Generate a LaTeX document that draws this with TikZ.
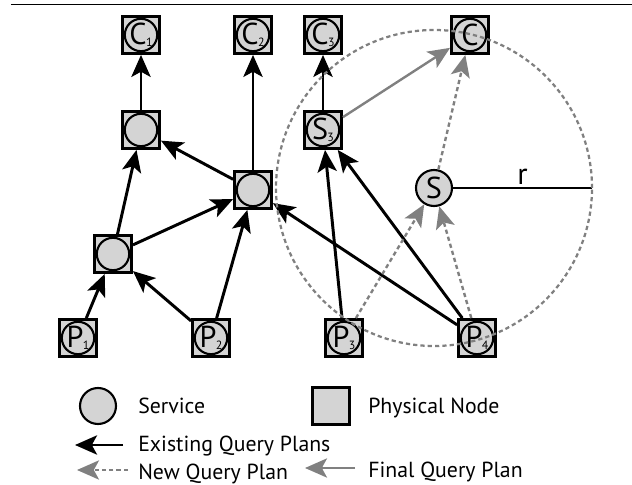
\documentclass[tikz,border=0pt]{standalone}
\usepackage{fontspec}
\setmainfont{PT Sans}
\usetikzlibrary{arrows.meta}

\definecolor{nodegray}{gray}{0.83}
\definecolor{plangray}{gray}{0.5}

\newcommand{\lbl}[2]{#1\kern-0.4pt\raisebox{-0.1ex}{\fontsize{8.5}{8.5}\selectfont #2}}

\begin{document}
\begin{tikzpicture}
    \tikzstyle{phys}=[draw, line width=2pt, fill=nodegray, minimum size=0.925cm, inner sep=0pt,
        font=\fontsize{21.5}{24}\selectfont,
        path picture={\draw[line width=1.5pt, fill=nodegray] (path picture bounding box.center) circle (0.405cm);}]
    \tikzstyle{svc}=[draw, circle, line width=1.5pt, fill=nodegray, minimum size=0.9cm, inner sep=0pt,
        font=\fontsize{21.5}{24}\selectfont]
    \tikzstyle{legend}=[anchor=base west, inner sep=0pt, font=\fontsize{15.5}{17}\selectfont]
    \tikzstyle{existing}=[-{Stealth[length=5.5mm, width=4.8mm, inset=1.3mm]}, line width=2.1pt]
    \tikzstyle{finalplan}=[-{Stealth[length=5.5mm, width=4.8mm, inset=1.3mm]}, line width=1.7pt, plangray]
    \tikzstyle{newplan}=[finalplan, dash pattern=on 3pt off 2.2pt]
    \useasboundingbox (0, 0) rectangle (15.8, 12.1);
    \draw[line width=1pt] (0.275, 11.99) -- (15.8, 11.99);

    \node[phys] (c1)   at (3.525, 11.225) {\lbl{C}{1}};
    \node[phys] (c2)   at (6.325, 11.225) {\lbl{C}{2}};
    \node[phys] (c3)   at (8.075, 11.225) {\lbl{C}{3}};
    \node[phys] (cnew) at (11.75, 11.225) {C};
    \node[phys] (sa)   at (3.525, 8.85)   {};
    \node[phys] (s3)   at (8.075, 8.85)   {\lbl{S}{3}};
    \node[phys] (sb)   at (6.325, 7.35)   {};
    \node[phys] (sc)   at (2.825, 5.75)   {};
    \node[svc]  (snew) at (10.85, 7.4)    {S};
    \node[phys] (p1)   at (1.95, 3.65)    {\lbl{P}{1}};
    \node[phys] (p2)   at (5.275, 3.65)   {\lbl{P}{2}};
    \node[phys] (p3)   at (8.6, 3.65)     {\lbl{P}{3}};
    \node[phys] (p4)   at (11.925, 3.65)  {\lbl{P}{4}};
    \coordinate (rim) at (14.8, 7.4);

    \path[existing] (sa) edge (c1)
                    (sb) edge (c2)
                    (s3) edge (c3)
                    (sb) edge (sa)
                    (sc) edge (sa)
                    (sc) edge (sb)
                    (p1) edge (sc)
                    (p2) edge (sc)
                    (p2) edge (sb)
                    (p3) edge (s3)
                    (p4) edge (s3)
                    (p4) edge (sb);
    \path[finalplan] (s3) edge (cnew);
    \path[newplan] (snew) edge (cnew)
                   (p3) edge (snew)
                   (p4) edge (snew);
    \draw[line width=0.8pt] (snew) -- node[above, inner sep=2pt, font=\fontsize{21.5}{24}\selectfont] {r} (rim);
    \draw[plangray, line width=1.6pt, dash pattern=on 3pt off 2.2pt] (snew.center) circle (3.95cm);

    % legend
    \node[svc] (lsvc) at (2.45, 1.95) {};
    \node[legend] (tsvc) at (3.45, 1.775) {Service};
    \node[draw, line width=2pt, fill=nodegray, minimum size=0.925cm] (lphys) at (8.275, 1.95) {};
    \node[legend] (tphys) at (9.2, 1.775) {Physical Node};
    \coordinate (ex1) at (3.075, 0.975);
    \coordinate (ex2) at (1.875, 0.975);
    \draw[existing] (ex1) -- (ex2);
    \node[legend] (texist) at (3.45, 0.825) {Existing Query Plans};
    \coordinate (nw1) at (3.2, 0.35);
    \coordinate (nw2) at (1.925, 0.35);
    \draw[newplan] (nw1) -- (nw2);
    \node[legend] (tnew) at (3.45, 0.125) {New Query Plan};
    \coordinate (fn1) at (8.875, 0.4);
    \coordinate (fn2) at (7.625, 0.4);
    \draw[finalplan] (fn1) -- (fn2);
    \node[legend] (tfinal) at (9.2, 0.175) {Final Query Plan};
\end{tikzpicture}
\end{document}
